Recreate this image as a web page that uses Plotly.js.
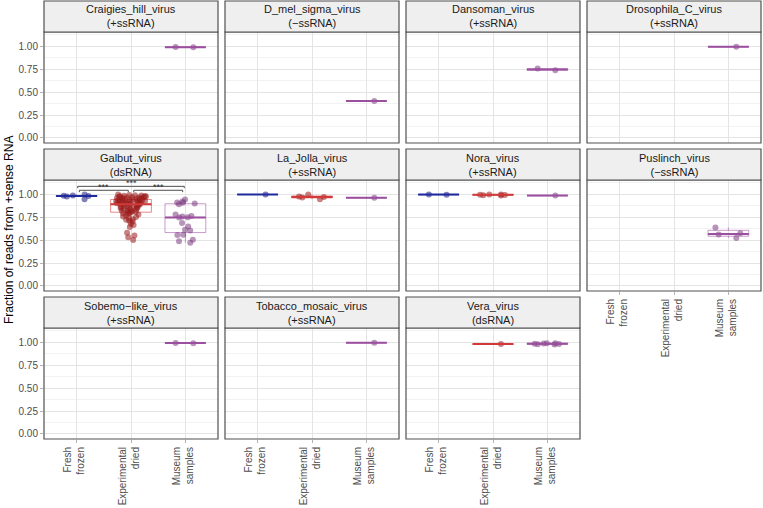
<!DOCTYPE html>
<html>
<head>
<meta charset="utf-8">
<script src="https://cdn.plot.ly/plotly-3.0.1.min.js"></script>
<style>html,body{margin:0;padding:0;background:#fff;}#chart{width:763px;height:508px;}</style>
</head>
<body>
<div id="chart"></div>
<script>
// ---------- data ----------
const viruses = ['Craigies_hill_virus','D_mel_sigma_virus','Dansoman_virus','Drosophila_C_virus',
  'Galbut_virus','La_Jolla_virus','Nora_virus','Puslinch_virus',
  'Sobemo\u2212like_virus','Tobacco_mosaic_virus','Vera_virus'];
const genomeTypes = ['+ssRNA','\u2212ssRNA','+ssRNA','+ssRNA','dsRNA','+ssRNA','+ssRNA','\u2212ssRNA','+ssRNA','+ssRNA','dsRNA'];
const categories = ['Fresh frozen','Experimental dried','Museum samples'];
const tickLabels = ['Fresh<br>frozen','Experimental<br>dried','Museum<br>samples'];
const yTickVals = [0,0.25,0.5,0.75,1];
const yTickText = ['0.00','0.25','0.50','0.75','1.00'];

const craigiesMuseum = [0.988, 0.991];
const dMelSigmaMuseum = [0.402];
const dansomanMuseum = [0.738, 0.756];
const drosophilaCMuseum = [0.995];
const galbutFresh = [0.975, 0.98, 0.982, 0.986, 0.996, 0.945];
const galbutDried = [0.946, 0.948, 0.951, 0.953, 0.956, 0.958, 0.961, 0.963, 0.965, 0.968, 0.971, 0.972, 0.976, 0.977, 0.981, 0.983, 0.985, 0.988, 0.991, 0.996,
  0.893, 0.896, 0.897, 0.901, 0.903, 0.906, 0.907, 0.911, 0.913, 0.915, 0.919, 0.92, 0.923, 0.925, 0.927, 0.931, 0.933, 0.935, 0.938, 0.94,
  0.808, 0.811, 0.817, 0.821, 0.824, 0.829, 0.835, 0.838, 0.842, 0.849, 0.851, 0.857, 0.861, 0.864, 0.869, 0.875, 0.877, 0.883, 0.886, 0.89,
  0.502, 0.53, 0.551, 0.58, 0.642, 0.664, 0.679, 0.702, 0.711, 0.722, 0.728, 0.741, 0.752, 0.758, 0.771, 0.779, 0.786, 0.791, 0.796, 0.8];
const galbutMuseum = [0.47, 0.487, 0.505, 0.556, 0.559, 0.605, 0.613, 0.649, 0.685, 0.745, 0.75, 0.756, 0.763, 0.778, 0.892, 0.9, 0.906, 0.91, 0.92, 0.943];
const laJollaFresh = [0.997];
const laJollaDried = [0.945, 0.965, 0.97, 0.975, 0.998];
const laJollaMuseum = [0.962];
const noraFresh = [0.995, 0.997];
const noraDried = [0.99, 0.995, 0.998, 0.985, 0.992, 0.996];
const noraMuseum = [0.985];
const puslinchMuseum = [0.524, 0.56, 0.575, 0.638];
const sobemoMuseum = [0.99, 0.992];
const tobaccoMuseum = [0.995];
const veraDried = [0.98];
const veraMuseum = [0.99, 0.985, 0.975, 0.98, 0.99, 0.982, 0.978];

// per panel: [fresh, dried, museum]
const panelData = [
  [null, null, craigiesMuseum],
  [null, null, dMelSigmaMuseum],
  [null, null, dansomanMuseum],
  [null, null, drosophilaCMuseum],
  [galbutFresh, galbutDried, galbutMuseum],
  [laJollaFresh, laJollaDried, laJollaMuseum],
  [noraFresh, noraDried, noraMuseum],
  [null, null, puslinchMuseum],
  [null, null, sobemoMuseum],
  [null, null, tobaccoMuseum],
  [null, veraDried, veraMuseum]
];

// significance (Galbut panel)
const sigPairs = [[0,1],[1,2],[0,2]];
const sigHeights = [1.043, 1.043, 1.086];
const sigLabels = ['***','***','***'];

// ---------- style ----------
const pointColors = ['#1a1a80','#9b1b1b','#7d3d82'];
const boxColors = ['rgba(30,40,160,0.75)','rgba(215,60,60,0.6)','rgba(165,90,170,0.6)'];
const medColors = ['#1e2a9e','#d23a3a','#9b4f9f'];
const FONT = 'Liberation Sans, Arial, Helvetica, sans-serif';
const W = 763, H = 508;
const colLeft = [44, 225, 406, 587], colW = 174;
const rowTop = [1, 149, 297], stripH = 31, plotH = 111;
const BOXW = 0.75;

function quantile(arr, q){
  const s = arr.slice().sort((a,b)=>a-b);
  const pos = (s.length-1)*q, lo = Math.floor(pos), hi = Math.ceil(pos);
  return s[lo] + (s[hi]-s[lo])*(pos-lo);
}

const traces = [], shapes = [], annotations = [];
const layout = {
  width: W, height: H, margin: {l:0,r:0,t:0,b:0},
  paper_bgcolor: '#fff', plot_bgcolor: '#fff', showlegend: false,
  font: {family: FONT, color: '#4d4d4d'}
};

viruses.forEach((v, i) => {
  const r = Math.floor(i/4), c = i % 4;
  const x0 = colLeft[c], x1 = x0 + colW;
  const sTop = rowTop[r], pTop = sTop + stripH, pBot = pTop + plotH;
  const xa = 'xaxis' + (i+1), ya = 'yaxis' + (i+1);
  const xr = 'x' + (i+1), yr = 'y' + (i+1);
  const showX = (i >= 7);
  const showY = (c === 0);
  layout[xa] = {
    domain: [x0/W, x1/W], anchor: yr, range: [-0.6, 2.6],
    tickvals: [0,1,2], ticktext: tickLabels, showticklabels: showX,
    ticks: showX ? 'outside' : '', ticklen: 3, tickcolor: '#b3b3b3', tickangle: -90,
    ticklabelshift: -2,
    tickfont: {size: 10, color: '#4d4d4d', family: FONT},
    showgrid: true, gridcolor: '#e4e4e4', gridwidth: 1, zeroline: false, showline: false, fixedrange: true
  };
  layout[ya] = {
    domain: [1 - pBot/H, 1 - pTop/H], anchor: xr, range: [-0.055, 1.155],
    tickvals: yTickVals, ticktext: yTickText, showticklabels: showY,
    ticks: showY ? 'outside' : '', ticklen: 3, tickcolor: '#b3b3b3',
    tickfont: {size: 10, color: '#4d4d4d', family: FONT},
    showgrid: true, gridcolor: '#e4e4e4', gridwidth: 1, zeroline: false, showline: false, fixedrange: true,
    minor: {dtick: 0.125, tick0: 0, showgrid: true, gridcolor: '#f2f2f2', gridwidth: 1, ticks: ''}
  };
  // panel border
  shapes.push({type:'rect', xref:'paper', yref:'paper', x0:x0/W, x1:x1/W, y0:1-pBot/H, y1:1-pTop/H,
    line:{color:'#505050', width:1.2}, fillcolor:'rgba(0,0,0,0)', layer:'above'});
  // strip
  shapes.push({type:'rect', xref:'paper', yref:'paper', x0:x0/W, x1:x1/W, y0:1-pTop/H, y1:1-sTop/H,
    line:{color:'#505050', width:1.2}, fillcolor:'#efefef', layer:'above'});
  annotations.push({xref:'paper', yref:'paper', x:(x0+x1)/2/W, y:1-(sTop+stripH/2)/H,
    text: v + '<br>(' + genomeTypes[i] + ')', showarrow:false, xanchor:'center', yanchor:'middle',
    font:{size:11, color:'#1a1a1a', family:FONT}});

  panelData[i].forEach((vals, k) => {
    if (!vals) return;
    traces.push({
      type:'box', x: vals.map(()=>k), y: vals, xaxis: xr, yaxis: yr,
      width: BOXW, boxpoints:'all', jitter: 0.75, pointpos: 0, whiskerwidth: 0,
      fillcolor:'rgba(255,255,255,0)', line:{color: boxColors[k], width: 1},
      marker:{color: pointColors[k], opacity: 0.55, size: 6, line:{width:0}},
      hoverinfo:'skip', showlegend:false, quartilemethod:'linear'
    });
    const med = quantile(vals, 0.5);
    traces.push({
      type:'scatter', mode:'lines', x:[k-BOXW/2, k+BOXW/2], y:[med, med], xaxis: xr, yaxis: yr,
      line:{color: medColors[k], width: 2}, hoverinfo:'skip', showlegend:false
    });
  });
});

// significance brackets on Galbut panel (index 4)
sigPairs.forEach((p, j) => {
  const inset = (p[1]-p[0] === 1) ? 0.05 : 0.02;
  const a = p[0] + inset, b = p[1] - inset, h = sigHeights[j];
  const style = {color:'#4d4d4d', width:1};
  shapes.push({type:'line', xref:'x5', yref:'y5', x0:a, x1:b, y0:h, y1:h, line:style});
  shapes.push({type:'line', xref:'x5', yref:'y5', x0:a, x1:a, y0:h, y1:h-0.02, line:style});
  shapes.push({type:'line', xref:'x5', yref:'y5', x0:b, x1:b, y0:h, y1:h-0.02, line:style});
  annotations.push({xref:'x5', yref:'y5', x:(a+b)/2, y:h, text:sigLabels[j], showarrow:false,
    xanchor:'center', yanchor:'bottom', yshift:-4, font:{size:9, color:'#333', family:FONT}});
});

// y axis title
annotations.push({xref:'paper', yref:'paper', x:9/W, y:1-230/H, text:'Fraction of reads from +sense RNA',
  textangle:-90, showarrow:false, xanchor:'center', yanchor:'middle', font:{size:12, color:'#000', family:FONT}});

layout.shapes = shapes;
layout.annotations = annotations;
Plotly.newPlot('chart', traces, layout, {staticPlot:true, displayModeBar:false});
</script>
</body>
</html>
